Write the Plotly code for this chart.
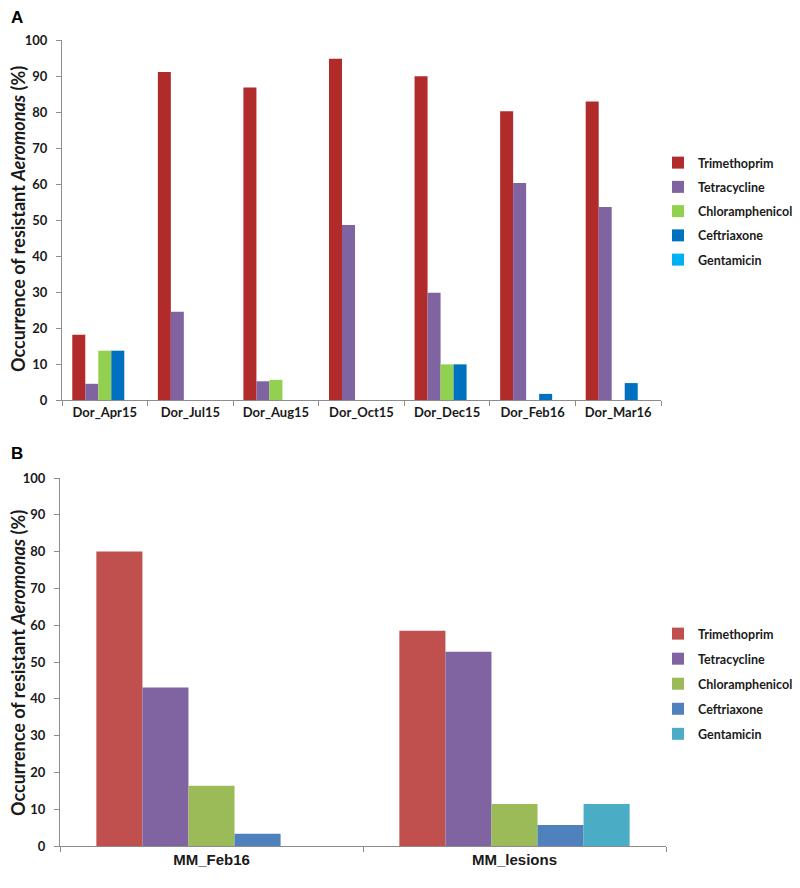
import plotly.graph_objects as go

# panel A data
sites_a = ['Dor_Apr15', 'Dor_Jul15', 'Dor_Aug15', 'Dor_Oct15', 'Dor_Dec15', 'Dor_Feb16', 'Dor_Mar16']
trimethoprim_a = [18.1, 91.1, 86.8, 94.8, 89.9, 80.2, 82.9]
tetracycline_a = [4.5, 24.5, 5.2, 48.6, 29.8, 60.3, 53.6]
chloramphenicol_a = [13.7, 0, 5.6, 0, 9.9, 0, 0]
ceftriaxone_a = [13.7, 0, 0, 0, 9.9, 1.7, 4.7]
gentamicin_a = [0, 0, 0, 0, 0, 0, 0]

# panel B data
sites_b = ['MM_Feb16', 'MM_lesions']
trimethoprim_b = [80.0, 58.5]
tetracycline_b = [43.1, 52.8]
chloramphenicol_b = [16.4, 11.4]
ceftriaxone_b = [3.3, 5.7]
gentamicin_b = [0, 11.4]

drugs = ['Trimethoprim', 'Tetracycline', 'Chloramphenicol', 'Ceftriaxone', 'Gentamicin']
colors_a = ['#B22B2B', '#8064A2', '#92D050', '#0070C0', '#00B0F0']
colors_b = ['#C0504D', '#8064A2', '#9BBB59', '#4F81BD', '#4BACC6']

# page body has an 8px margin, so the figure is shrunk and positions are given in screen px
OFF = 8
W, H = 800 - OFF, 888 - OFF
FONT = 'Lato'
TXT = '#1a1a1a'


def sx(x):
    return (x - OFF) / W


def sy(y):
    return 1 - (y - OFF) / H


fig = go.Figure()
vals_a = [trimethoprim_a, tetracycline_a, chloramphenicol_a, ceftriaxone_a, gentamicin_a]
vals_b = [trimethoprim_b, tetracycline_b, chloramphenicol_b, ceftriaxone_b, gentamicin_b]
for name, v, c in zip(drugs, vals_a, colors_a):
    fig.add_trace(go.Bar(x=sites_a, y=v, name=name, marker=dict(color=c, line_width=0),
                         xaxis='x', yaxis='y', legend='legend', legendgroup='a' + name))
for name, v, c in zip(drugs, vals_b, colors_b):
    fig.add_trace(go.Bar(x=sites_b, y=v, name=name, marker=dict(color=c, line_width=0),
                         xaxis='x2', yaxis='y2', legend='legend2', legendgroup='b' + name))

ax_common = dict(showgrid=False, zeroline=False, showline=True, linecolor='#8c8c8c', linewidth=1,
                 ticks='outside', ticklen=5, tickcolor='#8c8c8c', automargin=False, fixedrange=True)
tick_font = dict(family=FONT, size=13, color=TXT, weight='bold')
leg_font = dict(family=FONT, size=12.5, color=TXT, weight='bold')

fig.update_layout(
    width=W, height=H, margin=dict(l=0, r=0, t=0, b=0),
    paper_bgcolor='white', plot_bgcolor='white',
    barmode='group', bargap=0.24, bargroupgap=0,
    font=dict(family=FONT, color=TXT),
    xaxis=dict(domain=[sx(62), sx(661)], anchor='y', tickson='boundaries', tickfont=tick_font, **ax_common),
    yaxis=dict(domain=[sy(400), sy(40)], anchor='x', range=[0, 100], dtick=10, tickfont=tick_font,
               ticklabelstandoff=6, **ax_common),
    xaxis2=dict(domain=[sx(60), sx(666)], anchor='y2', tickson='boundaries',
                tickfont=dict(family='Liberation Sans', size=15, color=TXT, weight='bold'), **ax_common),
    yaxis2=dict(domain=[sy(846), sy(478)], anchor='x2', range=[0, 100], dtick=10, tickfont=tick_font,
                ticklabelstandoff=6, **ax_common),
    legend=dict(x=sx(658), y=sy(148), xanchor='left', yanchor='top', font=leg_font,
                tracegroupgap=5, itemwidth=30, bgcolor='rgba(0,0,0,0)'),
    legend2=dict(x=sx(658), y=sy(619), xanchor='left', yanchor='top', font=leg_font,
                 tracegroupgap=5.8, itemwidth=30, bgcolor='rgba(0,0,0,0)'),
)

ytitle = '<b>Occurrence of resistant <i>Aeromonas</i> (%)</b>'
for yc in (219, 663):
    fig.add_annotation(text=ytitle, x=sx(18), y=sy(yc), xref='paper', yref='paper',
                       xanchor='center', yanchor='middle', textangle=-90, showarrow=False,
                       font=dict(family=FONT, size=18, color=TXT, weight='bold'))
fig.add_annotation(text='<b>A</b>', x=sx(9), y=sy(6), xref='paper', yref='paper',
                   xanchor='left', yanchor='top', showarrow=False,
                   font=dict(family='Liberation Sans', size=17, color='black'))
fig.add_annotation(text='<b>B</b>', x=sx(9), y=sy(442), xref='paper', yref='paper',
                   xanchor='left', yanchor='top', showarrow=False,
                   font=dict(family='Liberation Sans', size=17, color='black'))

fig.write_html('out.html')
